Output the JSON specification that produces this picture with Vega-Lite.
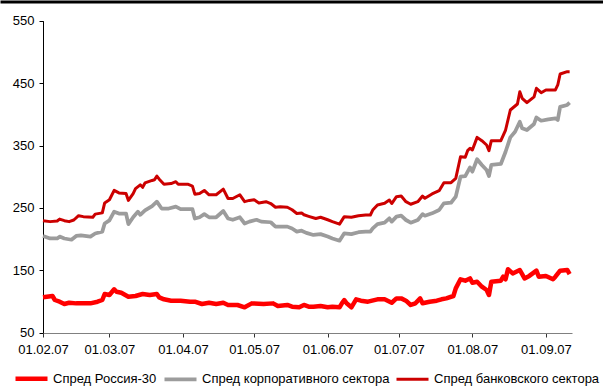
{
  "$schema": "https://vega.github.io/schema/vega-lite/v6.json",
  "width": 603,
  "height": 333,
  "autosize": {"type": "none"},
  "padding": {"left": 0, "top": 0, "right": 0, "bottom": 55},
  "background": "white",
  "config": {
    "view": {"stroke": null},
    "font": "Liberation Sans",
    "axis": {"labelFont": "Liberation Sans", "labelFontSize": 13, "labelColor": "black", "grid": false, "title": null},
    "legend": {"labelFont": "Liberation Sans", "labelFontSize": 13, "labelColor": "black"}
  },
  "datasets": {
    "spreads": [
      {"d": "2007-02-01", "s": "Спред Россия-30", "v": 106.7},
      {"d": "2007-02-05", "s": "Спред Россия-30", "v": 108.8},
      {"d": "2007-02-06", "s": "Спред Россия-30", "v": 102.4},
      {"d": "2007-02-08", "s": "Спред Россия-30", "v": 99.7},
      {"d": "2007-02-10", "s": "Спред Россия-30", "v": 96},
      {"d": "2007-02-12", "s": "Спред Россия-30", "v": 98},
      {"d": "2007-02-15", "s": "Спред Россия-30", "v": 97},
      {"d": "2007-02-21", "s": "Спред Россия-30", "v": 97},
      {"d": "2007-02-24", "s": "Спред Россия-30", "v": 99.7},
      {"d": "2007-02-26", "s": "Спред Россия-30", "v": 102.4},
      {"d": "2007-02-27", "s": "Спред Россия-30", "v": 112},
      {"d": "2007-03-01", "s": "Спред Россия-30", "v": 110.4},
      {"d": "2007-03-03", "s": "Спред Россия-30", "v": 119.6},
      {"d": "2007-03-04", "s": "Спред Россия-30", "v": 115.7},
      {"d": "2007-03-06", "s": "Спред Россия-30", "v": 114},
      {"d": "2007-03-09", "s": "Спред Россия-30", "v": 107.7},
      {"d": "2007-03-12", "s": "Спред Россия-30", "v": 108.8},
      {"d": "2007-03-15", "s": "Спред Россия-30", "v": 112},
      {"d": "2007-03-18", "s": "Спред Россия-30", "v": 110.4},
      {"d": "2007-03-21", "s": "Спред Россия-30", "v": 112},
      {"d": "2007-03-22", "s": "Спред Россия-30", "v": 106.7},
      {"d": "2007-03-24", "s": "Спред Россия-30", "v": 103.5},
      {"d": "2007-03-27", "s": "Спред Россия-30", "v": 101.3},
      {"d": "2007-03-31", "s": "Спред Россия-30", "v": 101.3},
      {"d": "2007-04-04", "s": "Спред Россия-30", "v": 99.7},
      {"d": "2007-04-06", "s": "Спред Россия-30", "v": 99.7},
      {"d": "2007-04-09", "s": "Спред Россия-30", "v": 96},
      {"d": "2007-04-12", "s": "Спред Россия-30", "v": 98},
      {"d": "2007-04-15", "s": "Спред Россия-30", "v": 96},
      {"d": "2007-04-18", "s": "Спред Россия-30", "v": 98},
      {"d": "2007-04-20", "s": "Спред Россия-30", "v": 94.4},
      {"d": "2007-04-24", "s": "Спред Россия-30", "v": 94.4},
      {"d": "2007-04-27", "s": "Спред Россия-30", "v": 90.7},
      {"d": "2007-04-30", "s": "Спред Россия-30", "v": 97},
      {"d": "2007-05-05", "s": "Спред Россия-30", "v": 96},
      {"d": "2007-05-09", "s": "Спред Россия-30", "v": 97},
      {"d": "2007-05-11", "s": "Спред Россия-30", "v": 92.8},
      {"d": "2007-05-15", "s": "Спред Россия-30", "v": 94.4},
      {"d": "2007-05-17", "s": "Спред Россия-30", "v": 91.7},
      {"d": "2007-05-20", "s": "Спред Россия-30", "v": 90.7},
      {"d": "2007-05-22", "s": "Спред Россия-30", "v": 94.4},
      {"d": "2007-05-24", "s": "Спред Россия-30", "v": 91.7},
      {"d": "2007-05-26", "s": "Спред Россия-30", "v": 91.7},
      {"d": "2007-05-29", "s": "Спред Россия-30", "v": 92.8},
      {"d": "2007-06-01", "s": "Спред Россия-30", "v": 90.7},
      {"d": "2007-06-03", "s": "Спред Россия-30", "v": 91.7},
      {"d": "2007-06-06", "s": "Спред Россия-30", "v": 90.7},
      {"d": "2007-06-07", "s": "Спред Россия-30", "v": 97.1},
      {"d": "2007-06-08", "s": "Спред Россия-30", "v": 102.4},
      {"d": "2007-06-09", "s": "Спред Россия-30", "v": 97.1},
      {"d": "2007-06-11", "s": "Спред Россия-30", "v": 90.7},
      {"d": "2007-06-13", "s": "Спред Россия-30", "v": 103.5},
      {"d": "2007-06-15", "s": "Спред Россия-30", "v": 101.3},
      {"d": "2007-06-18", "s": "Спред Россия-30", "v": 99.7},
      {"d": "2007-06-22", "s": "Спред Россия-30", "v": 103.5},
      {"d": "2007-06-25", "s": "Спред Россия-30", "v": 103.5},
      {"d": "2007-06-28", "s": "Спред Россия-30", "v": 98},
      {"d": "2007-06-30", "s": "Спред Россия-30", "v": 105},
      {"d": "2007-07-02", "s": "Спред Россия-30", "v": 105},
      {"d": "2007-07-04", "s": "Спред Россия-30", "v": 101.3},
      {"d": "2007-07-06", "s": "Спред Россия-30", "v": 94.4},
      {"d": "2007-07-08", "s": "Спред Россия-30", "v": 97.1},
      {"d": "2007-07-10", "s": "Спред Россия-30", "v": 105},
      {"d": "2007-07-11", "s": "Спред Россия-30", "v": 97.1},
      {"d": "2007-07-14", "s": "Спред Россия-30", "v": 99.7},
      {"d": "2007-07-17", "s": "Спред Россия-30", "v": 101.3},
      {"d": "2007-07-19", "s": "Спред Россия-30", "v": 103.5},
      {"d": "2007-07-21", "s": "Спред Россия-30", "v": 105},
      {"d": "2007-07-24", "s": "Спред Россия-30", "v": 108.8},
      {"d": "2007-07-25", "s": "Спред Россия-30", "v": 121},
      {"d": "2007-07-27", "s": "Спред Россия-30", "v": 135.6},
      {"d": "2007-07-29", "s": "Спред Россия-30", "v": 133.3},
      {"d": "2007-07-31", "s": "Спред Россия-30", "v": 137},
      {"d": "2007-08-01", "s": "Спред Россия-30", "v": 130},
      {"d": "2007-08-03", "s": "Спред Россия-30", "v": 131.7},
      {"d": "2007-08-05", "s": "Спред Россия-30", "v": 123.7},
      {"d": "2007-08-07", "s": "Спред Россия-30", "v": 118.4},
      {"d": "2007-08-08", "s": "Спред Россия-30", "v": 110.4},
      {"d": "2007-08-09", "s": "Спред Россия-30", "v": 131.7},
      {"d": "2007-08-13", "s": "Спред Россия-30", "v": 133.3},
      {"d": "2007-08-14", "s": "Спред Россия-30", "v": 139.7},
      {"d": "2007-08-15", "s": "Спред Россия-30", "v": 135.6},
      {"d": "2007-08-16", "s": "Спред Россия-30", "v": 151.6},
      {"d": "2007-08-18", "s": "Спред Россия-30", "v": 145},
      {"d": "2007-08-21", "s": "Спред Россия-30", "v": 150.5},
      {"d": "2007-08-23", "s": "Спред Россия-30", "v": 137},
      {"d": "2007-08-25", "s": "Спред Россия-30", "v": 141},
      {"d": "2007-08-28", "s": "Спред Россия-30", "v": 149.4},
      {"d": "2007-08-29", "s": "Спред Россия-30", "v": 139.7},
      {"d": "2007-09-01", "s": "Спред Россия-30", "v": 141},
      {"d": "2007-09-04", "s": "Спред Россия-30", "v": 135.6},
      {"d": "2007-09-05", "s": "Спред Россия-30", "v": 139.7},
      {"d": "2007-09-07", "s": "Спред Россия-30", "v": 149.4},
      {"d": "2007-09-10", "s": "Спред Россия-30", "v": 150.5},
      {"d": "2007-09-11", "s": "Спред Россия-30", "v": 144},

      {"d": "2007-02-01", "s": "Спред корпоративного сектора", "v": 205},
      {"d": "2007-02-04", "s": "Спред корпоративного сектора", "v": 201},
      {"d": "2007-02-07", "s": "Спред корпоративного сектора", "v": 201},
      {"d": "2007-02-08", "s": "Спред корпоративного сектора", "v": 204},
      {"d": "2007-02-10", "s": "Спред корпоративного сектора", "v": 201},
      {"d": "2007-02-13", "s": "Спред корпоративного сектора", "v": 199},
      {"d": "2007-02-15", "s": "Спред корпоративного сектора", "v": 205},
      {"d": "2007-02-17", "s": "Спред корпоративного сектора", "v": 206},
      {"d": "2007-02-21", "s": "Спред корпоративного сектора", "v": 204},
      {"d": "2007-02-23", "s": "Спред корпоративного сектора", "v": 209},
      {"d": "2007-02-26", "s": "Спред корпоративного сектора", "v": 212},
      {"d": "2007-02-27", "s": "Спред корпоративного сектора", "v": 225},
      {"d": "2007-03-01", "s": "Спред корпоративного сектора", "v": 230},
      {"d": "2007-03-03", "s": "Спред корпоративного сектора", "v": 244},
      {"d": "2007-03-05", "s": "Спред корпоративного сектора", "v": 241},
      {"d": "2007-03-08", "s": "Спред корпоративного сектора", "v": 241},
      {"d": "2007-03-09", "s": "Спред корпоративного сектора", "v": 224},
      {"d": "2007-03-11", "s": "Спред корпоративного сектора", "v": 235},
      {"d": "2007-03-13", "s": "Спред корпоративного сектора", "v": 244},
      {"d": "2007-03-14", "s": "Спред корпоративного сектора", "v": 239},
      {"d": "2007-03-16", "s": "Спред корпоративного сектора", "v": 246},
      {"d": "2007-03-19", "s": "Спред корпоративного сектора", "v": 253},
      {"d": "2007-03-21", "s": "Спред корпоративного сектора", "v": 260},
      {"d": "2007-03-23", "s": "Спред корпоративного сектора", "v": 249},
      {"d": "2007-03-26", "s": "Спред корпоративного сектора", "v": 249},
      {"d": "2007-03-29", "s": "Спред корпоративного сектора", "v": 252},
      {"d": "2007-03-31", "s": "Спред корпоративного сектора", "v": 248},
      {"d": "2007-04-03", "s": "Спред корпоративного сектора", "v": 248},
      {"d": "2007-04-05", "s": "Спред корпоративного сектора", "v": 248},
      {"d": "2007-04-06", "s": "Спред корпоративного сектора", "v": 233},
      {"d": "2007-04-08", "s": "Спред корпоративного сектора", "v": 235},
      {"d": "2007-04-10", "s": "Спред корпоративного сектора", "v": 240},
      {"d": "2007-04-12", "s": "Спред корпоративного сектора", "v": 235},
      {"d": "2007-04-15", "s": "Спред корпоративного сектора", "v": 235},
      {"d": "2007-04-18", "s": "Спред корпоративного сектора", "v": 245},
      {"d": "2007-04-20", "s": "Спред корпоративного сектора", "v": 233},
      {"d": "2007-04-22", "s": "Спред корпоративного сектора", "v": 231},
      {"d": "2007-04-25", "s": "Спред корпоративного сектора", "v": 235},
      {"d": "2007-04-27", "s": "Спред корпоративного сектора", "v": 225},
      {"d": "2007-04-29", "s": "Спред корпоративного сектора", "v": 228},
      {"d": "2007-05-02", "s": "Спред корпоративного сектора", "v": 231},
      {"d": "2007-05-04", "s": "Спред корпоративного сектора", "v": 228},
      {"d": "2007-05-08", "s": "Спред корпоративного сектора", "v": 227},
      {"d": "2007-05-10", "s": "Спред корпоративного сектора", "v": 220},
      {"d": "2007-05-12", "s": "Спред корпоративного сектора", "v": 220},
      {"d": "2007-05-15", "s": "Спред корпоративного сектора", "v": 220},
      {"d": "2007-05-17", "s": "Спред корпоративного сектора", "v": 217},
      {"d": "2007-05-19", "s": "Спред корпоративного сектора", "v": 212},
      {"d": "2007-05-21", "s": "Спред корпоративного сектора", "v": 213.5},
      {"d": "2007-05-23", "s": "Спред корпоративного сектора", "v": 210},
      {"d": "2007-05-26", "s": "Спред корпоративного сектора", "v": 206.6},
      {"d": "2007-05-29", "s": "Спред корпоративного сектора", "v": 208},
      {"d": "2007-06-01", "s": "Спред корпоративного сектора", "v": 204},
      {"d": "2007-06-03", "s": "Спред корпоративного сектора", "v": 201},
      {"d": "2007-06-06", "s": "Спред корпоративного сектора", "v": 197.4},
      {"d": "2007-06-08", "s": "Спред корпоративного сектора", "v": 209.3},
      {"d": "2007-06-11", "s": "Спред корпоративного сектора", "v": 208},
      {"d": "2007-06-14", "s": "Спред корпоративного сектора", "v": 211},
      {"d": "2007-06-17", "s": "Спред корпоративного сектора", "v": 212},
      {"d": "2007-06-19", "s": "Спред корпоративного сектора", "v": 212},
      {"d": "2007-06-20", "s": "Спред корпоративного сектора", "v": 217.3},
      {"d": "2007-06-22", "s": "Спред корпоративного сектора", "v": 224},
      {"d": "2007-06-25", "s": "Спред корпоративного сектора", "v": 226.3},
      {"d": "2007-06-27", "s": "Спред корпоративного сектора", "v": 233.3},
      {"d": "2007-06-28", "s": "Спред корпоративного сектора", "v": 228},
      {"d": "2007-06-30", "s": "Спред корпоративного сектора", "v": 236},
      {"d": "2007-07-02", "s": "Спред корпоративного сектора", "v": 237.5},
      {"d": "2007-07-04", "s": "Спред корпоративного сектора", "v": 230.6},
      {"d": "2007-07-06", "s": "Спред корпоративного сектора", "v": 226.3},
      {"d": "2007-07-09", "s": "Спред корпоративного сектора", "v": 230.6},
      {"d": "2007-07-11", "s": "Спред корпоративного сектора", "v": 240},
      {"d": "2007-07-12", "s": "Спред корпоративного сектора", "v": 237.5},
      {"d": "2007-07-15", "s": "Спред корпоративного сектора", "v": 241.3},
      {"d": "2007-07-18", "s": "Спред корпоративного сектора", "v": 246.6},
      {"d": "2007-07-20", "s": "Спред корпоративного сектора", "v": 257.4},
      {"d": "2007-07-23", "s": "Спред корпоративного сектора", "v": 258.3},
      {"d": "2007-07-25", "s": "Спред корпоративного сектора", "v": 268},
      {"d": "2007-07-27", "s": "Спред корпоративного сектора", "v": 300},
      {"d": "2007-07-29", "s": "Спред корпоративного сектора", "v": 301},
      {"d": "2007-07-31", "s": "Спред корпоративного сектора", "v": 315},
      {"d": "2007-08-01", "s": "Спред корпоративного сектора", "v": 308},
      {"d": "2007-08-03", "s": "Спред корпоративного сектора", "v": 328},
      {"d": "2007-08-05", "s": "Спред корпоративного сектора", "v": 318.8},
      {"d": "2007-08-07", "s": "Спред корпоративного сектора", "v": 310.7},
      {"d": "2007-08-08", "s": "Спред корпоративного сектора", "v": 301},
      {"d": "2007-08-09", "s": "Спред корпоративного сектора", "v": 318.8},
      {"d": "2007-08-13", "s": "Спред корпоративного сектора", "v": 320.4},
      {"d": "2007-08-15", "s": "Спред корпоративного сектора", "v": 340},
      {"d": "2007-08-17", "s": "Спред корпоративного сектора", "v": 363},
      {"d": "2007-08-19", "s": "Спред корпоративного сектора", "v": 372},
      {"d": "2007-08-21", "s": "Спред корпоративного сектора", "v": 388},
      {"d": "2007-08-22", "s": "Спред корпоративного сектора", "v": 377.6},
      {"d": "2007-08-24", "s": "Спред корпоративного сектора", "v": 374.8},
      {"d": "2007-08-27", "s": "Спред корпоративного сектора", "v": 384.5},
      {"d": "2007-08-28", "s": "Спред корпоративного сектора", "v": 395},
      {"d": "2007-08-30", "s": "Спред корпоративного сектора", "v": 389.7},
      {"d": "2007-09-02", "s": "Спред корпоративного сектора", "v": 392},
      {"d": "2007-09-05", "s": "Спред корпоративного сектора", "v": 393.6},
      {"d": "2007-09-06", "s": "Спред корпоративного сектора", "v": 391},
      {"d": "2007-09-07", "s": "Спред корпоративного сектора", "v": 412},
      {"d": "2007-09-10", "s": "Спред корпоративного сектора", "v": 415},
      {"d": "2007-09-11", "s": "Спред корпоративного сектора", "v": 418.6},

      {"d": "2007-02-01", "s": "Спред банковского сектора", "v": 229.5},
      {"d": "2007-02-04", "s": "Спред банковского сектора", "v": 228},
      {"d": "2007-02-07", "s": "Спред банковского сектора", "v": 229},
      {"d": "2007-02-08", "s": "Спред банковского сектора", "v": 232},
      {"d": "2007-02-10", "s": "Спред банковского сектора", "v": 229.5},
      {"d": "2007-02-12", "s": "Спред банковского сектора", "v": 228},
      {"d": "2007-02-14", "s": "Спред банковского сектора", "v": 230.6},
      {"d": "2007-02-16", "s": "Спред банковского сектора", "v": 237.5},
      {"d": "2007-02-18", "s": "Спред банковского сектора", "v": 236},
      {"d": "2007-02-22", "s": "Спред банковского сектора", "v": 235},
      {"d": "2007-02-23", "s": "Спред банковского сектора", "v": 240},
      {"d": "2007-02-26", "s": "Спред банковского сектора", "v": 242},
      {"d": "2007-02-27", "s": "Спред банковского сектора", "v": 258},
      {"d": "2007-03-01", "s": "Спред банковского сектора", "v": 263},
      {"d": "2007-03-03", "s": "Спред банковского сектора", "v": 278},
      {"d": "2007-03-05", "s": "Спред банковского сектора", "v": 274},
      {"d": "2007-03-08", "s": "Спред банковского сектора", "v": 273},
      {"d": "2007-03-09", "s": "Спред банковского сектора", "v": 262},
      {"d": "2007-03-11", "s": "Спред банковского сектора", "v": 273},
      {"d": "2007-03-12", "s": "Спред банковского сектора", "v": 281},
      {"d": "2007-03-14", "s": "Спред банковского сектора", "v": 287},
      {"d": "2007-03-15", "s": "Спред банковского сектора", "v": 283},
      {"d": "2007-03-16", "s": "Спред банковского сектора", "v": 290},
      {"d": "2007-03-19", "s": "Спред банковского сектора", "v": 294},
      {"d": "2007-03-20", "s": "Спред банковского сектора", "v": 295},
      {"d": "2007-03-21", "s": "Спред банковского сектора", "v": 301},
      {"d": "2007-03-22", "s": "Спред банковского сектора", "v": 296},
      {"d": "2007-03-24", "s": "Спред банковского сектора", "v": 288},
      {"d": "2007-03-27", "s": "Спред банковского сектора", "v": 289},
      {"d": "2007-03-29", "s": "Спред банковского сектора", "v": 292},
      {"d": "2007-03-30", "s": "Спред банковского сектора", "v": 288},
      {"d": "2007-04-03", "s": "Спред банковского сектора", "v": 288},
      {"d": "2007-04-05", "s": "Спред банковского сектора", "v": 285},
      {"d": "2007-04-06", "s": "Спред банковского сектора", "v": 272},
      {"d": "2007-04-08", "s": "Спред банковского сектора", "v": 273},
      {"d": "2007-04-10", "s": "Спред банковского сектора", "v": 278},
      {"d": "2007-04-12", "s": "Спред банковского сектора", "v": 271},
      {"d": "2007-04-15", "s": "Спред банковского сектора", "v": 271},
      {"d": "2007-04-18", "s": "Спред банковского сектора", "v": 280},
      {"d": "2007-04-20", "s": "Спред банковского сектора", "v": 265},
      {"d": "2007-04-22", "s": "Спред банковского сектора", "v": 265},
      {"d": "2007-04-25", "s": "Спред банковского сектора", "v": 271},
      {"d": "2007-04-27", "s": "Спред банковского сектора", "v": 260},
      {"d": "2007-04-29", "s": "Спред банковского сектора", "v": 262},
      {"d": "2007-05-01", "s": "Спред банковского сектора", "v": 263},
      {"d": "2007-05-03", "s": "Спред банковского сектора", "v": 258},
      {"d": "2007-05-06", "s": "Спред банковского сектора", "v": 260},
      {"d": "2007-05-08", "s": "Спред банковского сектора", "v": 257},
      {"d": "2007-05-10", "s": "Спред банковского сектора", "v": 251},
      {"d": "2007-05-12", "s": "Спред банковского сектора", "v": 252},
      {"d": "2007-05-15", "s": "Спред банковского сектора", "v": 251},
      {"d": "2007-05-17", "s": "Спред банковского сектора", "v": 247},
      {"d": "2007-05-19", "s": "Спред банковского сектора", "v": 241},
      {"d": "2007-05-21", "s": "Спред банковского сектора", "v": 242},
      {"d": "2007-05-22", "s": "Спред банковского сектора", "v": 239},
      {"d": "2007-05-24", "s": "Спред банковского сектора", "v": 236.5},
      {"d": "2007-05-27", "s": "Спред банковского сектора", "v": 233},
      {"d": "2007-05-29", "s": "Спред банковского сектора", "v": 235},
      {"d": "2007-06-01", "s": "Спред банковского сектора", "v": 231},
      {"d": "2007-06-03", "s": "Спред банковского сектора", "v": 228},
      {"d": "2007-06-06", "s": "Спред банковского сектора", "v": 224},
      {"d": "2007-06-08", "s": "Спред банковского сектора", "v": 236},
      {"d": "2007-06-11", "s": "Спред банковского сектора", "v": 235},
      {"d": "2007-06-14", "s": "Спред банковского сектора", "v": 237.5},
      {"d": "2007-06-17", "s": "Спред банковского сектора", "v": 238.6},
      {"d": "2007-06-19", "s": "Спред банковского сектора", "v": 238.6},
      {"d": "2007-06-20", "s": "Спред банковского сектора", "v": 246.6},
      {"d": "2007-06-22", "s": "Спред банковского сектора", "v": 254.6},
      {"d": "2007-06-25", "s": "Спред банковского сектора", "v": 257.4},
      {"d": "2007-06-27", "s": "Спред банковского сектора", "v": 262.7},
      {"d": "2007-06-28", "s": "Спред банковского сектора", "v": 257},
      {"d": "2007-06-30", "s": "Спред банковского сектора", "v": 268},
      {"d": "2007-07-02", "s": "Спред банковского сектора", "v": 269},
      {"d": "2007-07-04", "s": "Спред банковского сектора", "v": 260},
      {"d": "2007-07-06", "s": "Спред банковского сектора", "v": 255.8},
      {"d": "2007-07-09", "s": "Спред банковского сектора", "v": 260},
      {"d": "2007-07-11", "s": "Спред банковского сектора", "v": 269},
      {"d": "2007-07-12", "s": "Спред банковского сектора", "v": 265.4},
      {"d": "2007-07-15", "s": "Спред банковского сектора", "v": 272.3},
      {"d": "2007-07-18", "s": "Спред банковского сектора", "v": 277.6},
      {"d": "2007-07-20", "s": "Спред банковского сектора", "v": 290.4},
      {"d": "2007-07-23", "s": "Спред банковского сектора", "v": 290.4},
      {"d": "2007-07-25", "s": "Спред банковского сектора", "v": 297.4},
      {"d": "2007-07-27", "s": "Спред банковского сектора", "v": 332},
      {"d": "2007-07-29", "s": "Спред банковского сектора", "v": 331},
      {"d": "2007-07-30", "s": "Спред банковского сектора", "v": 341.7},
      {"d": "2007-07-31", "s": "Спред банковского сектора", "v": 345.5},
      {"d": "2007-08-01", "s": "Спред банковского сектора", "v": 342.8},
      {"d": "2007-08-03", "s": "Спред банковского сектора", "v": 363},
      {"d": "2007-08-05", "s": "Спред банковского сектора", "v": 357.7},
      {"d": "2007-08-07", "s": "Спред банковского сектора", "v": 350.8},
      {"d": "2007-08-08", "s": "Спред банковского сектора", "v": 341.7},
      {"d": "2007-08-09", "s": "Спред банковского сектора", "v": 357.7},
      {"d": "2007-08-13", "s": "Спред банковского сектора", "v": 357.7},
      {"d": "2007-08-15", "s": "Спред банковского сектора", "v": 374.8},
      {"d": "2007-08-17", "s": "Спред банковского сектора", "v": 406.9},
      {"d": "2007-08-20", "s": "Спред банковского сектора", "v": 416.5},
      {"d": "2007-08-21", "s": "Спред банковского сектора", "v": 436},
      {"d": "2007-08-22", "s": "Спред банковского сектора", "v": 425.6},
      {"d": "2007-08-24", "s": "Спред банковского сектора", "v": 418.6},
      {"d": "2007-08-27", "s": "Спред банковского сектора", "v": 428},
      {"d": "2007-08-28", "s": "Спред банковского сектора", "v": 441.7},
      {"d": "2007-08-30", "s": "Спред банковского сектора", "v": 434.6},
      {"d": "2007-09-01", "s": "Спред банковского сектора", "v": 439},
      {"d": "2007-09-05", "s": "Спред банковского сектора", "v": 439},
      {"d": "2007-09-06", "s": "Спред банковского сектора", "v": 447},
      {"d": "2007-09-07", "s": "Спред банковского сектора", "v": 464.6},
      {"d": "2007-09-10", "s": "Спред банковского сектора", "v": 468.3},
      {"d": "2007-09-11", "s": "Спред банковского сектора", "v": 468.3}
    ],
    "frame": [{"d": "2007-02-01"}]
  },
  "layer": [
    {
      "data": {"name": "spreads"},
      "mark": {"type": "line", "strokeCap": "butt", "strokeJoin": "round"},
      "encoding": {
        "x": {
          "field": "d", "type": "temporal",
          "scale": {"type": "utc", "domain": ["2007-02-01", "2007-09-12"], "range": [43, 572]},
          "axis": {
            "orient": "bottom", "format": "%d.%m.%y",
            "tickCount": {"interval": "month", "step": 1},
            "domainColor": "#808080", "tickColor": "#333333", "tickSize": 4,
            "labelPadding": 6, "labelFlush": false, "labelOverlap": false
          }
        },
        "y": {
          "field": "v", "type": "quantitative",
          "scale": {"domain": [50, 550], "range": [332.7, 20.7], "nice": false, "zero": false},
          "axis": {
            "values": [50, 150, 250, 350, 450, 550], "offset": -43,
            "domainColor": "black", "tickColor": "black", "tickSize": 4, "labelPadding": 5
          }
        },
        "color": {
          "field": "s", "type": "nominal",
          "scale": {
            "domain": ["Спред Россия-30", "Спред корпоративного сектора", "Спред банковского сектора"],
            "range": ["#FF0000", "#9C9C9C", "#CC0000"]
          },
          "legend": {
            "title": null, "orient": "none", "legendX": 13, "legendY": 360,
            "direction": "horizontal", "columns": 3,
            "symbolType": "stroke", "symbolSize": 1024,
            "labelOffset": 3, "columnPadding": 0, "labelLimit": 0
          }
        },
        "strokeWidth": {
          "field": "s", "type": "nominal",
          "scale": {
            "domain": ["Спред Россия-30", "Спред корпоративного сектора", "Спред банковского сектора"],
            "range": [4.5, 3, 3]
          },
          "legend": {
            "title": null, "orient": "none", "legendX": 13, "legendY": 360,
            "direction": "horizontal", "columns": 3,
            "symbolType": "stroke", "symbolSize": 1024,
            "labelOffset": 3, "columnPadding": 0, "labelLimit": 0
          }
        }
      }
    },
    {
      "data": {"name": "frame"},
      "mark": {"type": "rule", "opacity": 0},
      "encoding": {
        "x": {
          "field": "d", "type": "temporal",
          "axis": {
            "orient": "top", "offset": -1.5, "domainColor": "black", "domainWidth": 3,
            "domainCap": "butt", "ticks": false, "labels": false
          }
        }
      }
    }
  ],
  "resolve": {"scale": {"x": "independent"}, "axis": {"x": "independent"}}
}
